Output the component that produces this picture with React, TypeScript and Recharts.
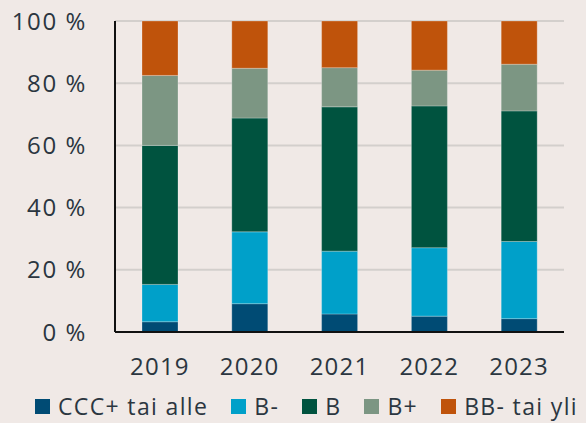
import React from 'react'
import { BarChart, Bar, XAxis, YAxis, CartesianGrid, Legend } from 'recharts'

const years = ['2019', '2020', '2021', '2022', '2023']
const ccc = [3.3, 9.1, 5.8, 5.1, 4.3]
const bMinus = [12.0, 23.1, 20.2, 22.0, 24.8]
const b = [44.7, 36.6, 46.4, 45.6, 42.0]
const bPlus = [22.5, 16.0, 12.6, 11.5, 15.0]
const bbUp = [17.5, 15.2, 15.0, 15.8, 13.9]
const yTicks = [0, 20, 40, 60, 80, 100]

const series = [
  { key: 'ccc', name: 'CCC+ tai alle', color: '#004b74' },
  { key: 'bMinus', name: 'B-', color: '#00a0c9' },
  { key: 'b', name: 'B', color: '#00533f' },
  { key: 'bPlus', name: 'B+', color: '#7c9683' },
  { key: 'bbUp', name: 'BB- tai yli', color: '#bf530b' },
]

const data = years.map((year, i) => ({
  year,
  ccc: ccc[i],
  bMinus: bMinus[i],
  b: b[i],
  bPlus: bPlus[i],
  bbUp: bbUp[i],
}))

const BG = '#f0e9e6'
const TEXT = '#2b3640'
const FONT = '"Open Sans", sans-serif'

const LegendContent = () => (
  <div
    style={{
      display: 'flex',
      justifyContent: 'flex-start',
      alignItems: 'center',
      paddingLeft: 35,
      fontFamily: FONT,
      fontSize: 23,
      letterSpacing: 1.35,
      color: TEXT,
      whiteSpace: 'nowrap',
    }}
  >
    {series.map((s) => (
      <div key={s.key} style={{ display: 'flex', alignItems: 'center', marginRight: 23 }}>
        <span style={{ width: 15, height: 15, background: s.color, marginRight: 8, display: 'inline-block' }} />
        <span>{s.name}</span>
      </div>
    ))}
  </div>
)

export default function App() {
  return (
    <div style={{ position: 'fixed', left: 0, top: 0, width: 586, height: 423, background: BG }}>
      <BarChart
        width={586}
        height={423}
        data={data}
        margin={{ top: 21, right: 22, bottom: 0, left: 0 }}
        barSize={36}
      >
        <CartesianGrid vertical={false} stroke="#d3cfcc" strokeWidth={2} />
        <XAxis
          dataKey="year"
          axisLine={{ stroke: '#111', strokeWidth: 2 }}
          tickLine={false}
          tickSize={0}
          tickMargin={26}
          height={58}
          tick={{ fontSize: 24, fill: TEXT, fontFamily: FONT, letterSpacing: 1.2 }}
        />
        <YAxis
          domain={[0, 100]}
          ticks={yTicks}
          width={115}
          axisLine={{ stroke: '#111', strokeWidth: 2 }}
          tickLine={false}
          tickSize={0}
          tickMargin={28}
          tickFormatter={(v) => `${v} %`}
          tick={{ fontSize: 24, fill: TEXT, fontFamily: FONT, letterSpacing: 1.6 }}
        />
        <Legend verticalAlign="bottom" height={33} content={<LegendContent />} />
        {series.map((s) => (
          <Bar
            key={s.key}
            dataKey={s.key}
            name={s.name}
            stackId="a"
            fill={s.color}
            stroke="#ffffff"
            strokeOpacity={0.25}
            strokeWidth={1}
            isAnimationActive={false}
          />
        ))}
      </BarChart>
    </div>
  )
}
